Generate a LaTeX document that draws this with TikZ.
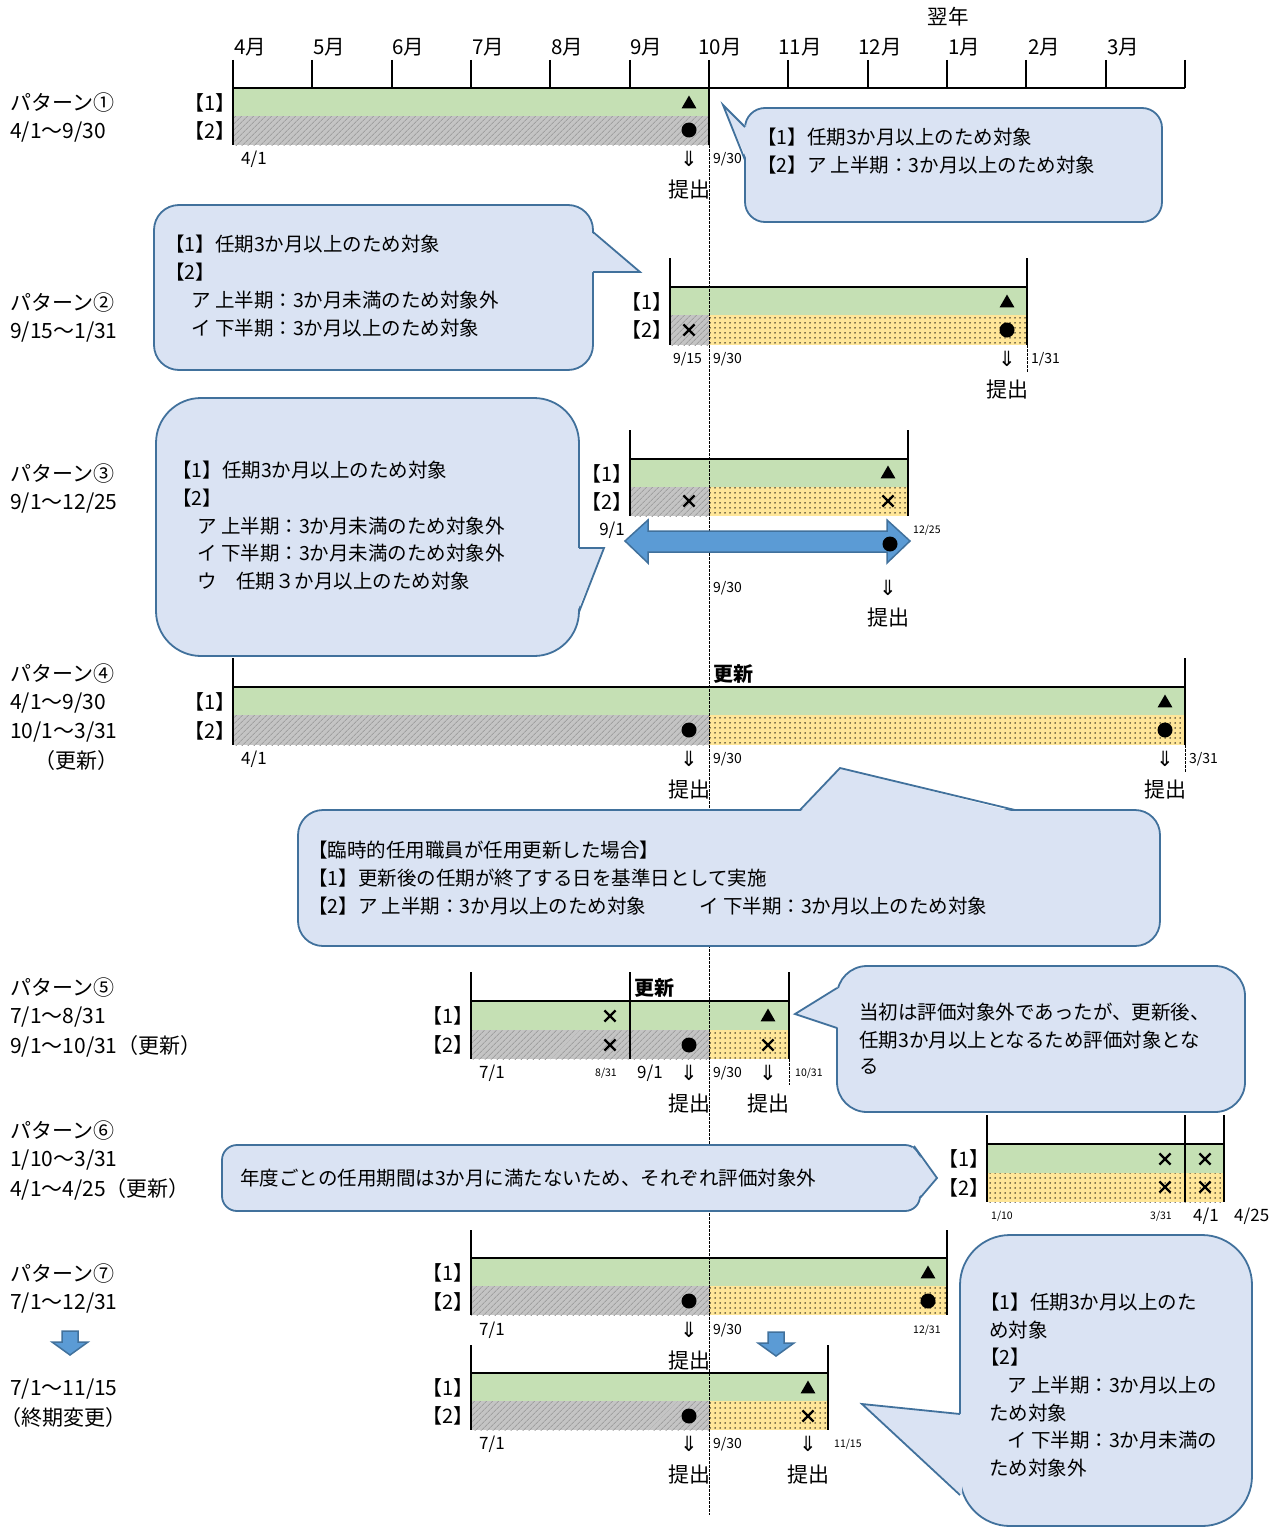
\documentclass[tikz,border=0pt]{standalone}
\usepackage{fontspec}
\setmainfont{Noto Sans CJK JP}
\newfontfamily\dvsans{DejaVu Sans}
\usetikzlibrary{patterns.meta,shapes.misc,shapes.geometric}
\definecolor{gbar}{HTML}{C5E0B4}
\definecolor{ybar}{HTML}{FFE699}
\definecolor{hbg}{HTML}{C4C4C4}
\definecolor{hfg}{HTML}{A0A0A0}
\definecolor{cfill}{HTML}{DAE3F3}
\definecolor{cline}{HTML}{41719C}
\definecolor{afill}{HTML}{5B9BD5}
\begin{document}
\begin{tikzpicture}[x=1pt,y=-1pt,
  every node/.style={inner sep=0pt},
  lbl/.style={anchor=west, font=\fontsize{21}{21}\selectfont},
  br/.style={anchor=east, font=\fontsize{20}{20}\selectfont},
  mon/.style={font=\fontsize{20.5}{20.5}\selectfont},
  ct/.style={anchor=west, font=\fontsize{19.5}{19.5}\selectfont},
  upd/.style={anchor=west, font=\fontsize{20}{20}\selectfont\bfseries},
  dbig/.style={anchor=west, font=\fontsize{17}{17}\selectfont},
  dmid/.style={anchor=west, font=\fontsize{14}{14}\selectfont},
  dsml/.style={anchor=west, font=\fontsize{10.5}{10.5}\selectfont},
  sub/.style={font=\fontsize{21}{21}\selectfont},
  darr/.style={font=\dvsans\fontsize{21}{21}\selectfont},
  ax/.style={line width=2pt, draw=black},
  vdash/.style={line width=0.9pt, dash pattern=on 2.5pt off 1.5pt},
  callout/.style={fill=cfill, draw=cline, line width=1.8pt},
  ptrfill/.style={fill=cfill},
  ptrline/.style={draw=cline, line width=1.8pt, line join=miter},
  barrow/.style={fill=afill, draw=cline, line width=1.5pt, line join=miter},
  gfill/.style={fill=gbar},
  hatch/.style={fill=hbg, postaction={pattern={Lines[angle=45,distance=4pt,line width=0.9pt]}, pattern color=hfg}},
  dotf/.style={fill=ybar, postaction={pattern={Dots[radius=0.75pt,distance=5pt]}, pattern color=black}},
  tri/.style={regular polygon, regular polygon sides=3, fill=black, minimum size=17pt},
  dotm/.style={circle, fill=black, minimum size=15pt},
  xm/.style={cross out, draw=black, line width=2.2pt, minimum size=9pt}
]
\useasboundingbox (0,0) rectangle (1280,1528);
\fill[white] (0,0) rectangle (1280,1528);

% ---------- header ----------
\node[mon] (yn) at (948,17) {翌年};
\node[mon] (m4) at (250,47) {4月};
\node[mon] (m5) at (329,47) {5月};
\node[mon] (m6) at (408,47) {6月};
\node[mon] (m7) at (488,47) {7月};
\node[mon] (m8) at (567,47) {8月};
\node[mon] (m9) at (646,47) {9月};
\node[mon] (m10) at (720,47) {10月};
\node[mon] (m11) at (800,47) {11月};
\node[mon] (m12) at (880,47) {12月};
\node[mon] (m1) at (964,47) {1月};
\node[mon] (m2) at (1044,47) {2月};
\node[mon] (m3) at (1123,47) {3月};

% ---------- bars ----------
\fill[gfill] (233,88) rectangle (709,116);
\path[hatch] (233,116) rectangle (709,145);
\fill[gfill] (670,287) rectangle (1027,315);
\path[hatch] (670,315) rectangle (709,345);
\path[dotf] (709,315) rectangle (1027,345);
\fill[gfill] (630,459) rectangle (908,487);
\path[hatch] (630,487) rectangle (709,516);
\path[dotf] (709,487) rectangle (908,516);
\fill[gfill] (233,687) rectangle (1185,715);
\path[hatch] (233,715) rectangle (709,745);
\path[dotf] (709,715) rectangle (1185,745);
\fill[gfill] (471,1001) rectangle (789,1030);
\path[hatch] (471,1030) rectangle (709,1059);
\path[dotf] (709,1030) rectangle (789,1059);
\fill[gfill] (987,1144) rectangle (1224,1173);
\path[dotf] (987,1173) rectangle (1224,1202);
\fill[gfill] (471,1258) rectangle (947,1286);
\path[hatch] (471,1286) rectangle (709,1315);
\path[dotf] (709,1286) rectangle (947,1315);
\fill[gfill] (471,1373) rectangle (828,1401);
\path[hatch] (471,1401) rectangle (709,1430);
\path[dotf] (709,1401) rectangle (828,1430);

% ---------- frame lines ----------
\draw[ax] (233,88) -- (1185,88);
\foreach \x in {312.3,391.7,471,550.3,629.7,788.3,867.7,947,1026.3,1105.7,1185}
  \draw[ax] (\x,60) -- (\x,88);
\draw[ax] (233,60) -- (233,145);
\draw[ax] (709,60) -- (709,145);

\draw[ax] (670,258) -- (670,345);
\draw[ax] (1027,258) -- (1027,345);
\draw[ax] (670,287) -- (1027,287);

\draw[ax] (630,430) -- (630,516);
\draw[ax] (908,430) -- (908,516);
\draw[ax] (630,459) -- (908,459);

\draw[ax] (233,658) -- (233,745);
\draw[ax] (1185,658) -- (1185,745);
\draw[ax] (233,687) -- (1185,687);

\draw[ax] (471,972) -- (471,1059);
\draw[ax] (630,972) -- (630,1059);
\draw[ax] (789,972) -- (789,1059);
\draw[ax] (471,1001) -- (789,1001);

\draw[ax] (987,1115) -- (987,1202);
\draw[ax] (1185,1115) -- (1185,1202);
\draw[ax] (1224,1115) -- (1224,1202);
\draw[ax] (987,1144) -- (1224,1144);

\draw[ax] (471,1230) -- (471,1315);
\draw[ax] (947,1230) -- (947,1315);
\draw[ax] (471,1258) -- (947,1258);

\draw[ax] (471,1345) -- (471,1430);
\draw[ax] (828,1345) -- (828,1430);
\draw[ax] (471,1373) -- (828,1373);

% ---------- dashed guides ----------
\draw[vdash] (709,145) -- (709,1515);
\draw[vdash] (1027,345) -- (1027,372);
\draw[vdash] (1185,745) -- (1185,772);
\draw[vdash] (789,1059) -- (789,1085);

% ---------- blue arrows ----------
\draw[barrow] (625,541) -- (648,520) -- (648,531) -- (887,531) -- (887,520) -- (910,541)
  -- (887,563) -- (887,552) -- (648,552) -- (648,563) -- cycle;
\draw[barrow] (62,1331) -- (78,1331) -- (78,1342) -- (88,1342) -- (70,1355) -- (52,1342) -- (62,1342) -- cycle;
\draw[barrow] (768,1332) -- (784,1332) -- (784,1343) -- (794,1343) -- (776,1356) -- (758,1343) -- (768,1343) -- cycle;

% ---------- markers ----------
\node[tri] (a1) at (689,104) {};
\node[dotm] (b1) at (689,130) {};
\node[xm] (x2) at (689,330) {};
\node[tri] (a2) at (1007,303) {};
\node[dotm] (b2) at (1007,330) {};
\node[tri] (a3) at (888,474) {};
\node[xm] (x3a) at (689,501) {};
\node[xm] (x3b) at (888,501) {};
\node[dotm] (b3) at (890,544) {};
\node[dotm] (b4a) at (689,730) {};
\node[tri] (a4) at (1165,703) {};
\node[dotm] (b4b) at (1165,730) {};
\node[xm] (x5a) at (610,1016) {};
\node[xm] (x5b) at (610,1045) {};
\node[dotm] (b5) at (689,1045) {};
\node[tri] (a5) at (768,1017) {};
\node[xm] (x5c) at (768,1045) {};
\node[xm] (x6a) at (1165,1159) {};
\node[xm] (x6b) at (1205,1159) {};
\node[xm] (x6c) at (1165,1187) {};
\node[xm] (x6d) at (1205,1187) {};
\node[tri] (a7) at (928,1274) {};
\node[dotm] (b7a) at (689,1301) {};
\node[dotm] (b7b) at (928,1301) {};
\node[tri] (a8) at (808,1389) {};
\node[dotm] (b8) at (689,1416) {};
\node[xm] (x8) at (808,1416) {};

% ---------- callouts ----------
% C1
\draw[callout, rounded corners=20] (745,108) rectangle (1162,222);
\fill[ptrfill] (747,127) -- (723,105) -- (747,160) -- cycle;
\draw[ptrline] (745,127) -- (723,105) -- (745,160);
% C2
\draw[callout, rounded corners=25] (154,205) rectangle (593,370);
\fill[ptrfill] (591,232) -- (640,272) -- (591,272) -- cycle;
\draw[ptrline] (593,232) -- (640,272) -- (593,272);
% C3
\draw[callout, rounded corners=45] (156,398) rectangle (579,656);
\fill[ptrfill] (577,548) -- (604,548) -- (577,612) -- cycle;
\draw[ptrline] (579,548) -- (604,548) -- (579,612);
% C4
\draw[callout, rounded corners=25] (298,810) rectangle (1160,946);
\fill[ptrfill] (800,812) -- (840,768) -- (1015,812) -- cycle;
\draw[ptrline] (800,810) -- (840,768) -- (1015,810);
% C5
\draw[callout, rounded corners=30] (837,966) rectangle (1245,1112);
\fill[ptrfill] (839,988) -- (795,1014) -- (839,1028) -- cycle;
\draw[ptrline] (837,988) -- (795,1014) -- (837,1028);
% C6
\draw[callout, rounded corners=15] (222,1145) rectangle (920,1211);
\fill[ptrfill] (912,1147) -- (937,1178) -- (918,1198) -- cycle;
\draw[ptrline] (914,1146) -- (937,1178) -- (920,1198);
% C7
\draw[callout, rounded corners=50] (960,1235) rectangle (1252,1526);
\fill[ptrfill] (962,1414) -- (862,1404) -- (962,1495) -- cycle;
\draw[ptrline] (960,1414) -- (862,1404) -- (960,1495);

% ---------- callout texts ----------
\node[ct] (c1a) at (757,137) {【1】任期3か月以上のため対象};
\node[ct] (c1b) at (757,165) {【2】ア 上半期：3か月以上のため対象};

\node[ct] (c2a) at (165,244) {【1】任期3か月以上のため対象};
\node[ct] (c2b) at (165,272) {【2】};
\node[ct] (c2c) at (191,300) {ア 上半期：3か月未満のため対象外};
\node[ct] (c2d) at (191,328) {イ 下半期：3か月以上のため対象};

\node[ct] (c3a) at (172,470) {【1】任期3か月以上のため対象};
\node[ct] (c3b) at (172,498) {【2】};
\node[ct] (c3c) at (197,526) {ア 上半期：3か月未満のため対象外};
\node[ct] (c3d) at (197,553) {イ 下半期：3か月未満のため対象外};
\node[ct] (c3e) at (197,581) {ウ　任期３か月以上のため対象};

\node[ct] (c4a) at (308,850) {【臨時的任用職員が任用更新した場合】};
\node[ct] (c4b) at (308,878) {【1】更新後の任期が終了する日を基準日として実施};
\node[ct] (c4c) at (308,906) {【2】ア 上半期：3か月以上のため対象};
\node[ct] (c4d) at (699,906) {イ 下半期：3か月以上のため対象};

\node[ct] (c5a) at (859,1012) {当初は評価対象外であったが、更新後、};
\node[ct] (c5b) at (859,1040) {任期3か月以上となるため評価対象とな};
\node[ct] (c5c) at (859,1067) {る};

\node[ct] (c6a) at (240,1178) {年度ごとの任用期間は3か月に満たないため、それぞれ評価対象外};

\node[ct] (c7a) at (980,1302) {【1】任期3か月以上のた};
\node[ct] (c7b) at (989,1330) {め対象};
\node[ct] (c7c) at (980,1357) {【2】};
\node[ct] (c7d) at (1007,1385) {ア 上半期：3か月以上の};
\node[ct] (c7e) at (989,1413) {ため対象};
\node[ct] (c7f) at (1007,1440) {イ 下半期：3か月未満の};
\node[ct] (c7g) at (989,1468) {ため対象外};

% ---------- left labels ----------
\node[lbl] (p1) at (10,103) {パターン①};
\node[lbl] (p1d) at (10,132) {4/1～9/30};
\node[lbl] (p2) at (10,303) {パターン②};
\node[lbl] (p2d) at (10,332) {9/15～1/31};
\node[lbl] (p3) at (10,474) {パターン③};
\node[lbl] (p3d) at (10,503) {9/1～12/25};
\node[lbl] (p4) at (10,674) {パターン④};
\node[lbl] (p4d) at (10,703) {4/1～9/30};
\node[lbl] (p4e) at (10,732) {10/1～3/31};
\node[lbl] (p4f) at (34,761) {（更新）};
\node[lbl] (p5) at (10,988) {パターン⑤};
\node[lbl] (p5d) at (10,1017) {7/1～8/31};
\node[lbl] (p5e) at (10,1046) {9/1～10/31（更新）};
\node[lbl] (p6) at (10,1131) {パターン⑥};
\node[lbl] (p6d) at (10,1160) {1/10～3/31};
\node[lbl] (p6e) at (10,1189) {4/1～4/25（更新）};
\node[lbl] (p7) at (10,1274) {パターン⑦};
\node[lbl] (p7d) at (10,1303) {7/1～12/31};
\node[lbl] (p7e) at (10,1389) {7/1～11/15};
\node[lbl] (p7f) at (0,1418) {（終期変更）};

% ---------- row labels ----------
\node[br] (r1a) at (236,103) {【1】};
\node[br] (r1b) at (236,131) {【2】};
\node[br] (r2a) at (673,302) {【1】};
\node[br] (r2b) at (673,330) {【2】};
\node[br] (r3a) at (633,474) {【1】};
\node[br] (r3b) at (633,502) {【2】};
\node[br] (r4a) at (236,702) {【1】};
\node[br] (r4b) at (236,731) {【2】};
\node[br] (r5a) at (474,1016) {【1】};
\node[br] (r5b) at (474,1045) {【2】};
\node[br] (r6a) at (990,1159) {【1】};
\node[br] (r6b) at (990,1188) {【2】};
\node[br] (r7a) at (474,1273) {【1】};
\node[br] (r7b) at (474,1302) {【2】};
\node[br] (r8a) at (474,1388) {【1】};
\node[br] (r8b) at (474,1416) {【2】};

\node[upd] (u4) at (713,674) {更新};
\node[upd] (u5) at (634,988) {更新};

% ---------- date labels ----------
\node[dbig] (d1a) at (241,159) {4/1};
\node[dmid] (d1b) at (713,159) {9/30};
\node[dmid] (d2a) at (673,359) {9/15};
\node[dmid] (d2b) at (713,359) {9/30};
\node[dmid] (d2c) at (1031,359) {1/31};
\node[dbig, anchor=east] (d3a) at (625,530) {9/1};
\node[dsml] (d3b) at (913,530) {12/25};
\node[dmid] (d3c) at (713,588) {9/30};
\node[dbig] (d4a) at (241,759) {4/1};
\node[dmid] (d4b) at (713,759) {9/30};
\node[dmid] (d4c) at (1189,759) {3/31};
\node[dbig] (d5a) at (479,1073) {7/1};
\node[dsml] (d5b) at (595,1073) {8/31};
\node[dbig] (d5c) at (637,1073) {9/1};
\node[dmid] (d5d) at (713,1073) {9/30};
\node[dsml] (d5e) at (795,1073) {10/31};
\node[dsml] (d6a) at (991,1216) {1/10};
\node[dsml] (d6b) at (1150,1216) {3/31};
\node[dbig] (d6c) at (1193,1216) {4/1};
\node[dbig] (d6d) at (1234,1216) {4/25};
\node[dbig] (d7a) at (479,1330) {7/1};
\node[dmid] (d7b) at (713,1330) {9/30};
\node[dsml] (d7c) at (913,1330) {12/31};
\node[dbig] (d8a) at (479,1444) {7/1};
\node[dmid] (d8b) at (713,1444) {9/30};
\node[dsml] (d8c) at (834,1444) {11/15};

% ---------- submit marks ----------
\node[darr] (s1) at (689,159) {⇓};
\node[sub] (t1) at (689,190) {提出};
\node[darr] (s2) at (1007,359) {⇓};
\node[sub] (t2) at (1007,390) {提出};
\node[darr] (s3) at (888,588) {⇓};
\node[sub] (t3) at (888,618) {提出};
\node[darr] (s4a) at (689,759) {⇓};
\node[sub] (t4a) at (689,790) {提出};
\node[darr] (s4b) at (1165,759) {⇓};
\node[sub] (t4b) at (1165,790) {提出};
\node[darr] (s5a) at (689,1073) {⇓};
\node[sub] (t5a) at (689,1104) {提出};
\node[darr] (s5b) at (768,1073) {⇓};
\node[sub] (t5b) at (768,1104) {提出};
\node[darr] (s7) at (689,1330) {⇓};
\node[sub] (t7) at (689,1361) {提出};
\node[darr] (s8a) at (689,1444) {⇓};
\node[sub] (t8a) at (689,1475) {提出};
\node[darr] (s8b) at (808,1444) {⇓};
\node[sub] (t8b) at (808,1475) {提出};
\end{tikzpicture}
\end{document}
